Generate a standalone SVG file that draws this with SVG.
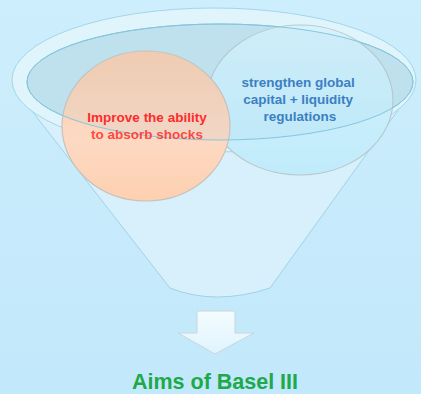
<svg xmlns="http://www.w3.org/2000/svg" width="421" height="394" viewBox="0 0 421 394">
  <defs>
    <linearGradient id="bg" x1="0" y1="0" x2="0" y2="1">
      <stop offset="0" stop-color="#cdeefc"/>
      <stop offset="1" stop-color="#c2e8fb"/>
    </linearGradient>
    <linearGradient id="peach" x1="0" y1="0" x2="0" y2="1">
      <stop offset="0" stop-color="#fbcbaa"/>
      <stop offset="0.6" stop-color="#fdd9c2"/>
      <stop offset="1" stop-color="#fdd0b0"/>
    </linearGradient>
    <linearGradient id="cyan" x1="0" y1="0" x2="0" y2="1">
      <stop offset="0" stop-color="#d6f2fc"/>
      <stop offset="1" stop-color="#c0ebfb"/>
    </linearGradient>
    <linearGradient id="arrowFill" x1="0" y1="0" x2="0" y2="1">
      <stop offset="0" stop-color="#f4fcff"/>
      <stop offset="1" stop-color="#dff4fd"/>
    </linearGradient>
    <style>
      .lbl { font-family: "Liberation Sans", Arial, sans-serif; font-weight: bold; text-anchor: middle; }
    </style>
  </defs>

  <rect width="421" height="394" fill="url(#bg)"/>

  <!-- funnel: rim, cone body and opening -->
  <g id="funnel">
    <path d="M14,88 L170,288 Q215,306 270,288 L414,88 A201,72 0 0 0 14,88 Z" fill="#d8f0fb" stroke="#9fd3e8" stroke-width="1"/>
    <ellipse cx="214" cy="80" rx="202" ry="72" fill="#e0f4fc" stroke="#a3d6ea" stroke-width="1"/>
    <ellipse cx="220" cy="82" rx="193" ry="58" fill="#c4e4f0" stroke="#86c6dd" stroke-width="1"/>
  </g>

  <g id="node-capital">
    <ellipse cx="300" cy="100" rx="93" ry="75" fill="url(#cyan)" stroke="#b9c9cd" stroke-width="1.2"/>
  </g>

  <g id="node-shocks">
    <ellipse cx="146" cy="126" rx="84" ry="75" fill="url(#peach)" stroke="#c9c2ba" stroke-width="1.2"/>
  </g>

  <!-- opening overlay drawn across both circles -->
  <ellipse cx="220" cy="82" rx="193" ry="58" fill="#9fd0e4" fill-opacity="0.12" stroke="#86c6dd" stroke-width="1"/>

  <text class="lbl" x="147" y="122" font-size="13.5" fill="#ff2b2b">Improve the ability</text>
  <text class="lbl" x="147" y="139" font-size="13.5" fill="#ff2b2b" fill-opacity="0.85">to absorb shocks</text>

  <text class="lbl" font-size="13.5" fill="#3b80c4">
    <tspan x="300" y="87">strengthen global</tspan>
    <tspan x="300" y="104">capital + liquidity</tspan>
    <tspan x="300" y="121">regulations</tspan>
  </text>

  <g id="connectors">
    <path d="M197,311 L235,311 L235,333 L254,333 L215,354 L178,333 L197,333 Z" fill="url(#arrowFill)" stroke="#c8d6dc" stroke-width="1"/>
  </g>

  <g id="node-title">
    <text class="lbl" x="215" y="389" font-size="21.5" fill="#20a84a">Aims of Basel III</text>
  </g>
</svg>
